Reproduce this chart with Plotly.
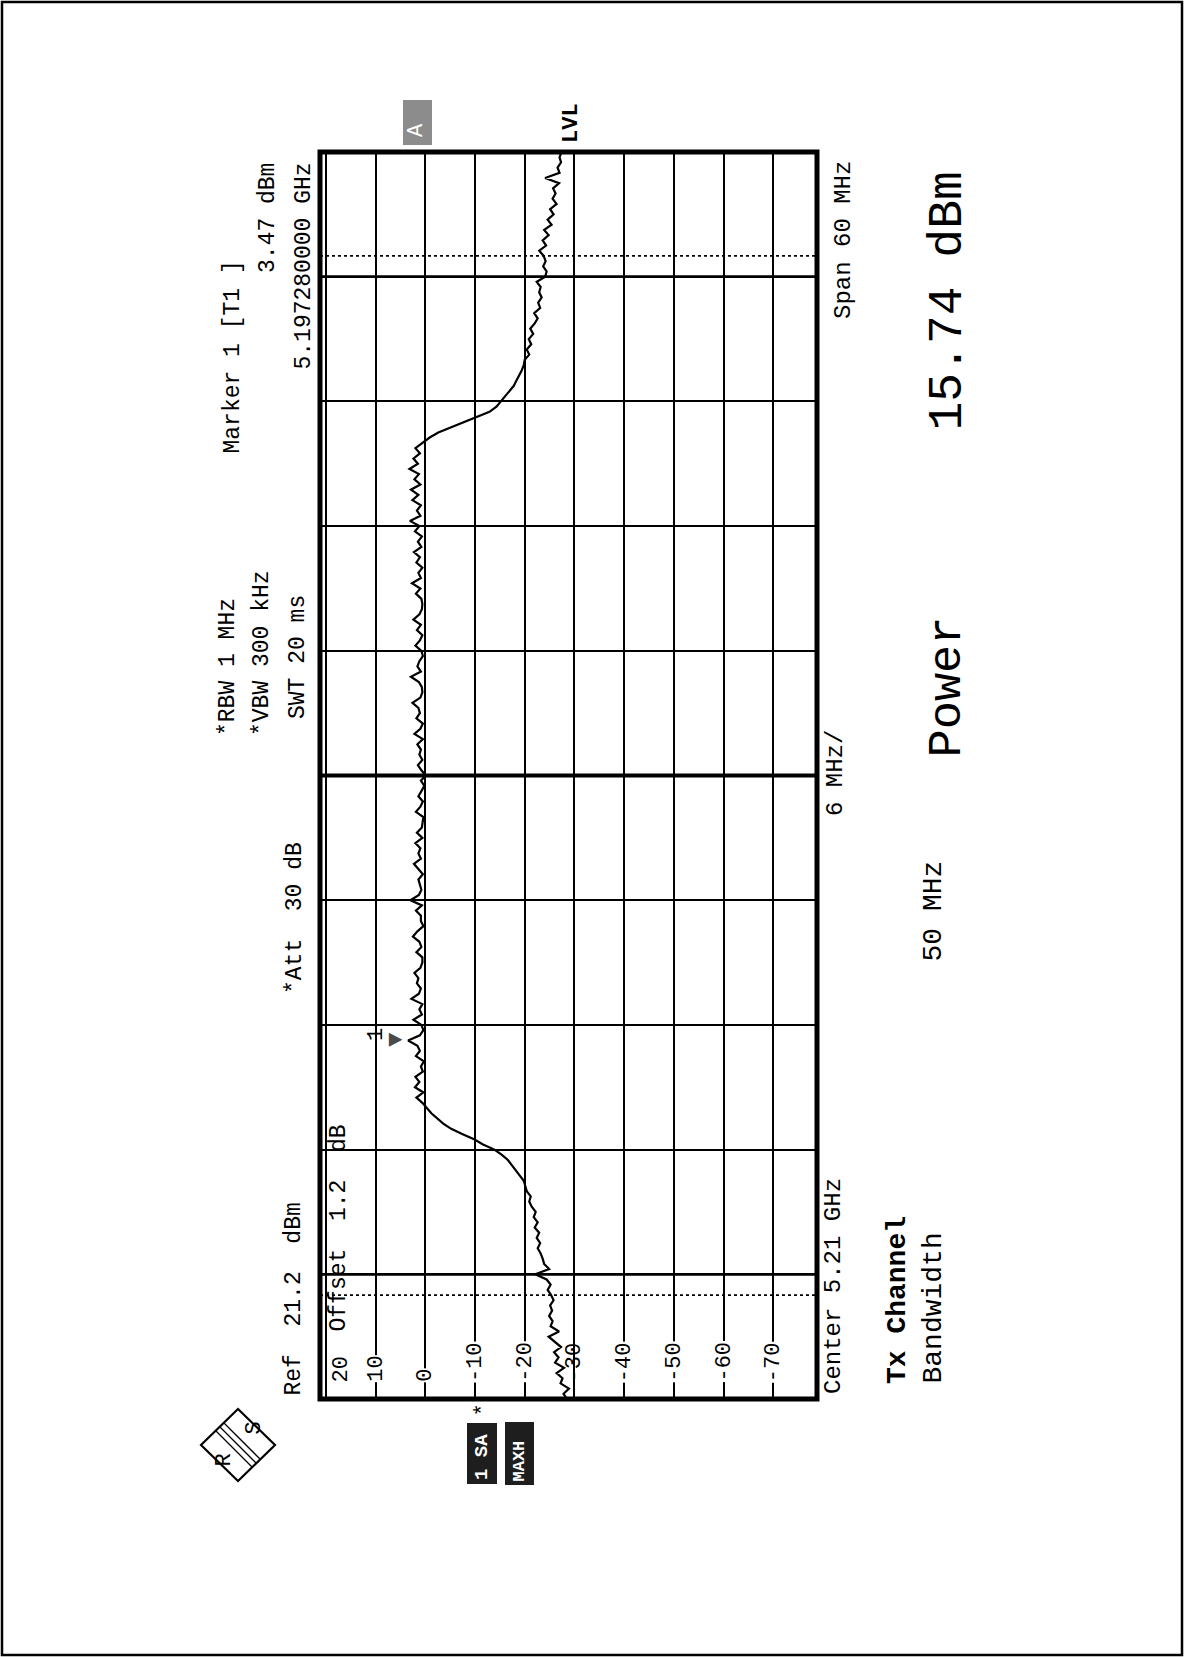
import plotly.graph_objects as go

W, H = 1184, 1657

# ---------------- data ----------------
freq_start_ghz = 5.18
freq_stop_ghz = 5.24
freq_step_ghz = 0.00025
level_dbm = [
    -28.5, -27.8, -28.9, -27.2, -27.6, -26.4, -27.9, -26.1, -26.8, -25.9,
    -27.3, -26.0, -24.8, -26.9, -25.2, -25.6, -24.9, -25.5, -25.1, -25.8,
    -25.3, -24.6, -25.2, -24.4, -22.1, -24.9, -23.9, -23.6, -23.2, -22.6,
    -23.1, -22.4, -22.9, -22.0, -22.6, -21.8, -22.2, -21.4, -20.9, -21.2,
    -20.4, -20.1, -19.8, -19.0, -18.2, -17.5, -16.6, -15.4, -13.9, -11.6,
    -9.8, -7.4, -5.2, -3.6, -2.3, -1.2, -0.3,
    0.6, 1.8, 0.4, 2.1, 1.2, 2.0, 0.5, 0.9, 0.3, 1.9,
    1.1, 1.6, 3.47, 1.1, 0.4, 0.8, 2.4, 0.7, 1.2, 0.6,
    2.8, 1.3, 0.9, 1.7, 1.4, 2.2, 1.0, 0.6, 0.6, 1.8,
    0.8, 1.2, 2.5, 1.6, 0.4, 0.9, 0.9, 1.9, 0.7, 3.0,
    1.3, 0.8, 1.1, 1.4, 0.5, 1.5, 2.3, 0.9, 1.4, 1.0,
    2.0, 0.6, 1.7, 0.7, 0.5, 0.4, 1.9, 1.0, 0.5, 1.4,
    0.8, 0.2, 0.9, -0.1, 0.8, 1.5, 0.6, 1.2, 0.9, 1.6,
    0.5, 2.2, 1.0, 0.5, 1.8, 1.1, 1.4, 2.6, 1.0, 0.6,
    0.7, 1.3, 2.9, 0.9, 1.6, 1.2, 0.5, 0.8, 2.0, 1.1,
    0.6, 1.7, 0.9, 2.4, 1.2, 0.7, 0.6, 0.8, 1.9, 1.0,
    2.7, 0.9, 1.4, 0.6, 1.8, 1.1, 2.3, 0.8, 1.5, 0.7,
    2.1, 1.2, 3.1, 1.0, 1.7, 0.9, 2.6, 1.4, 2.9, 1.0,
    2.2, 1.3, 3.2, 1.5, 2.4, 1.1, 2.0, 0.6,
    -0.8, -2.6, -5.2, -8.1, -10.6, -12.9, -14.3, -15.2, -16.0, -16.9,
    -17.8, -18.3, -18.9, -19.4, -19.8, -20.0, -20.9, -20.4, -21.3, -20.8,
    -21.7, -21.1, -22.0, -22.6, -21.9, -23.1, -22.7, -23.4, -22.9, -23.2,
    -22.4, -24.1, -24.4, -23.7, -24.2, -23.8, -22.9, -24.3, -23.6, -24.8,
    -23.9, -25.4, -24.6, -25.8, -25.1, -26.4, -25.6, -26.2, -25.7, -26.9,
    -24.1, -27.0, -26.6, -27.3, -27.0, -27.4,
]
freq_ghz = [freq_start_ghz + i * freq_step_ghz for i in range(len(level_dbm))]

ref_level_dbm = 21.2
display_range_db = 100
level_tick_values = [20, 10, 0, -10, -20, -30, -40, -50, -60, -70]
level_tick_labels = ["20", "10", "0", "-10", "-20", "-30", "-40", "-50", "-60", "-70"]

marker_freq_ghz = 5.19728
marker_level_dbm = 3.47
channel_edges_ghz = [5.185, 5.235]
center_freq_ghz = 5.21
bold_lines_ghz = [5.186, 5.234]

FONT = "Liberation Mono"


def px(x):
    return x / W


def py(y):
    return 1 - y / H


fig = go.Figure()
fig.add_trace(go.Scatter(
    x=level_dbm, y=freq_ghz, mode="lines",
    line=dict(color="black", width=2.2), showlegend=False, hoverinfo="skip",
))

fig.update_layout(
    width=W, height=H, margin=dict(l=0, r=0, t=0, b=0),
    paper_bgcolor="white", plot_bgcolor="white",
    xaxis=dict(domain=[px(320), px(817)],
               range=[ref_level_dbm, ref_level_dbm - display_range_db],
               tick0=0, dtick=10, showgrid=True, gridcolor="black", gridwidth=1.6,
               showticklabels=False, zeroline=False, showline=False, ticks=""),
    yaxis=dict(domain=[py(1399), py(152)], range=[freq_start_ghz, freq_stop_ghz],
               tick0=freq_start_ghz, dtick=0.006, showgrid=True, gridcolor="black",
               gridwidth=1.6, showticklabels=False, zeroline=False, showline=False, ticks=""),
    font=dict(family=FONT, color="black"),
)

shapes = []
# plot frame
shapes.append(dict(type="rect", xref="x domain", yref="y domain", x0=0, x1=1, y0=0, y1=1,
                   line=dict(color="black", width=5)))
# center line and bold lines
shapes.append(dict(type="line", xref="x domain", yref="y", x0=0, x1=1,
                   y0=center_freq_ghz, y1=center_freq_ghz, line=dict(color="black", width=4)))
for f in bold_lines_ghz:
    shapes.append(dict(type="line", xref="x domain", yref="y", x0=0, x1=1, y0=f, y1=f,
                       line=dict(color="black", width=2.8)))
for f in channel_edges_ghz:
    shapes.append(dict(type="line", xref="x domain", yref="y", x0=0, x1=1, y0=f, y1=f,
                       line=dict(color="black", width=1.6, dash="dot")))
# page frame
shapes.append(dict(type="rect", xref="paper", yref="paper", x0=px(2), x1=px(1182), y0=py(1655),
                   y1=py(2), line=dict(color="black", width=2.5)))
# A box
shapes.append(dict(type="rect", xref="paper", yref="paper", x0=px(403), x1=px(432), y0=py(145),
                   y1=py(100), line=dict(width=0), fillcolor="#8c8c8c"))
# 1 SA / MAXH boxes
shapes.append(dict(type="rect", xref="paper", yref="paper", x0=px(467), x1=px(497), y0=py(1484),
                   y1=py(1423), line=dict(width=0), fillcolor="#1e1e1e"))
shapes.append(dict(type="rect", xref="paper", yref="paper", x0=px(505), x1=px(534), y0=py(1485),
                   y1=py(1422), line=dict(width=0), fillcolor="#1e1e1e"))
# R&S logo diamond
cx, cy, hw, hh = 238, 1445, 37, 36
path = (f"M {px(cx)},{py(cy - hh)} L {px(cx + hw)},{py(cy)} L {px(cx)},{py(cy + hh)} "
        f"L {px(cx - hw)},{py(cy)} Z")
shapes.append(dict(type="path", xref="paper", yref="paper", path=path,
                   line=dict(color="black", width=2.2)))
for d in (-4, 0, 4):
    shapes.append(dict(type="line", xref="paper", yref="paper",
                       x0=px(cx - 18 + d), y0=py(cy - 18 - d), x1=px(cx + 18 + d), y1=py(cy + 18 - d),
                       line=dict(color="black", width=1.3)))
fig.update_layout(shapes=shapes)

ann = []


def text(t, cxp, ypos, size=23, anchor="bottom", bold=False, color="black", bg=None):
    if bold:
        t = f"<b>{t}</b>"
    d = dict(text=t, x=px(cxp), y=py(ypos), xref="paper", yref="paper",
             xanchor="center", yanchor=anchor, textangle=-90, showarrow=False,
             font=dict(family=FONT, size=size, color=color), borderpad=0)
    if bg:
        d["bgcolor"] = bg
    ann.append(d)


text("Ref  21.2  dBm", 293, 1397)
text("*Att  30 dB", 295, 995)
text("*RBW 1 MHz", 228, 737)
text("*VBW 300 kHz", 262, 737)
text("SWT 20 ms", 298, 720)
text("Marker 1 [T1 ]", 232, 260, anchor="top")
text("3.47 dBm", 268, 162, anchor="top")
text("5.197280000 GHz", 303, 162, anchor="top")
text("Offset  1.2  dB", 338, 1333)
text("Center 5.21 GHz", 833, 1395, size=24)
text("6 MHz/", 835, 817, size=24)
text("Span 60 MHz", 843, 160, size=24, anchor="top")
text("Tx Channel", 897, 1385, size=28, bold=True)
text("Bandwidth", 933, 1385, size=28)
text("50 MHz", 933, 963, size=28)
text("Power", 947, 758, size=47)
text("15.74 dBm", 947, 170, size=48, anchor="top")
text("LVL", 572, 102, size=22, anchor="top", bold=True)
text("A", 417, 138, size=22, color="white")
text("*", 483, 1418, size=22)
text("1 SA", 482, 1481, size=19, bold=True, color="white")
text("MAXH", 519, 1483, size=17, bold=True, color="white")
text("R", 224, 1468, size=22)
text("S", 254, 1436, size=22)

# level tick labels (placed on the level axis)
for v, lab in zip(level_tick_values, level_tick_labels):
    d = dict(text=lab, x=v, xref="x", y=py(1383), yref="paper",
             xanchor="left" if v == level_tick_values[0] else "center", yanchor="bottom",
             textangle=-90, showarrow=False, font=dict(family=FONT, size=22), borderpad=0)
    if v == level_tick_values[0]:
        d["xshift"] = 2
    if v != -30:
        d["bgcolor"] = "white"
    ann.append(d)

# marker 1 symbol and label
ann.append(dict(text="▼", x=marker_level_dbm, y=marker_freq_ghz, xref="x", yref="y",
                xanchor="center", yanchor="middle", textangle=-90, showarrow=False,
                xshift=-12, font=dict(size=24, color="#4a4a4a")))
ann.append(dict(text="1", x=marker_level_dbm, y=marker_freq_ghz, xref="x", yref="y",
                xanchor="center", yanchor="middle", textangle=-90, showarrow=False,
                xshift=-31, yshift=5, font=dict(family=FONT, size=22)))

fig.update_layout(annotations=ann)
fig.write_html("out.html", config={"displayModeBar": False},
               post_script="document.body.style.margin='0';document.body.style.overflow='hidden';")
